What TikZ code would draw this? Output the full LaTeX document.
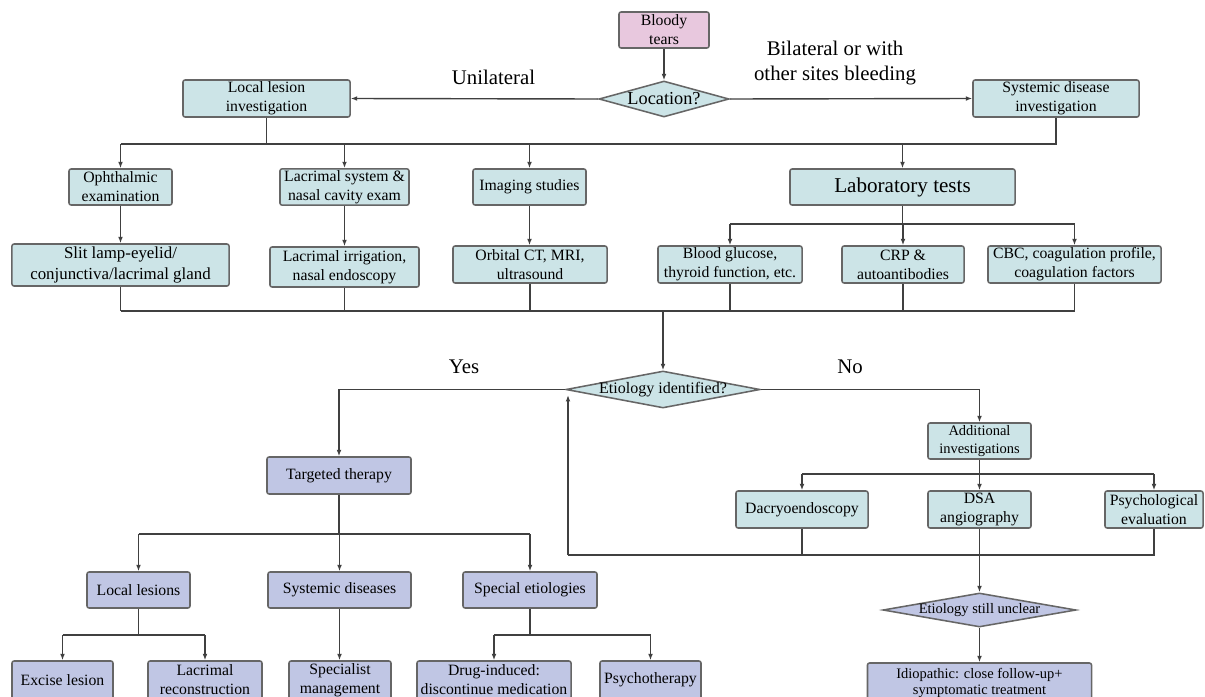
\documentclass[tikz,border=0pt]{standalone}
\usepackage{fontspec}
\setmainfont{Liberation Serif}
\usepackage{xcolor}
\usepackage{tikz}
\usetikzlibrary{arrows.meta, shapes.geometric}
\definecolor{cyanbox}{RGB}{204,228,231}
\definecolor{lilacbox}{RGB}{192,198,228}
\definecolor{pinkbox}{RGB}{232,200,222}

\begin{document}
\begin{tikzpicture}[x = 0.025cm, y = -0.025cm,
        Node/.style = {rectangle, rounded corners = 1.5pt, draw = black!60, line width = 1.1pt, align = center, inner sep = 1pt, font = \fontsize{11.2}{13.6}\selectfont},
        Cyan/.style = {Node, fill = cyanbox},
        Lilac/.style = {Node, fill = lilacbox},
        Choice/.style = {diamond, draw = black!60, line width = 1.1pt, inner sep = 0pt},
        Size/.style 2 args = {minimum width = #1cm, minimum height = #2cm},
        Tag/.style = {align = center, font = \fontsize{14.8}{17.8}\selectfont},
        Line/.style = {draw = black!75, line width = 1pt},
        Arrow/.style = {Line, -{Latex[length = 4.5pt, width = 3.4pt]}}]
        \useasboundingbox (0, 0) rectangle (1205, 697);
        \node [Node, fill = pinkbox, Size = {2.25}{0.9}] (1) at (664, 30) {Bloody\\tears};
        \node [Choice, fill = cyanbox, Size = {3.25}{0.9}, label = {[font = \fontsize{13}{15}\selectfont]center:Location?}] (2) at (664, 99) {};
        \node [Cyan, Size = {4.175}{0.925}] (3) at (266.5, 98.5) {Local lesion\\investigation};
        \node [Cyan, Size = {4.15}{0.925}] (4) at (1056, 98.5) {Systemic disease\\investigation};
        \node [Cyan, Size = {2.575}{0.9}] (5) at (120.5, 187) {Ophthalmic\\examination};
        \node [Cyan, Size = {3.225}{0.9}] (6) at (344.5, 187) {Lacrimal system \&\\nasal cavity exam};
        \node [Cyan, Size = {2.825}{0.9}] (7) at (529.5, 187) {Imaging studies};
        \node [Cyan, Size = {5.625}{0.9}, font = \fontsize{15}{17}\selectfont] (8) at (902.5, 187) {Laboratory tests};
        \node [Cyan, Size = {5.425}{1.05}, font = \fontsize{12}{15}\selectfont] (9) at (120.5, 265) {Slit lamp-eyelid/\\conjunctiva/lacrimal gland};
        \node [Cyan, Size = {3.725}{1.0}] (10) at (344.5, 267) {Lacrimal irrigation,\\nasal endoscopy};
        \node [Cyan, Size = {3.85}{0.925}] (11) at (530, 264.5) {Orbital CT, MRI,\\ultrasound};
        \node [Cyan, Size = {3.6}{0.925}] (12) at (730, 264.5) {Blood glucose,\\thyroid function, etc.};
        \node [Cyan, Size = {3.05}{0.925}] (13) at (903, 264.5) {CRP \&\\autoantibodies};
        \node [Cyan, Size = {4.325}{0.925}] (14) at (1074.5, 264.5) {CBC, coagulation profile,\\coagulation factors};
        \node [Choice, fill = cyanbox, Size = {4.85}{0.925}, label = {[font = \fontsize{11.4}{13}\selectfont]center:Etiology identified?}] (15) at (663, 389.5) {};
        \node [Lilac, Size = {3.6}{0.925}] (16) at (339, 475.5) {Targeted therapy};
        \node [Cyan, Size = {2.575}{0.9}, font = \fontsize{10.3}{13}\selectfont] (17) at (979.5, 441) {Additional\\investigations};
        \node [Cyan, Size = {3.3}{0.925}] (18) at (802, 509.5) {Dacryoendoscopy};
        \node [Cyan, Size = {2.575}{0.925}] (19) at (979.5, 509.5) {DSA\\angiography};
        \node [Cyan, Size = {2.45}{0.925}] (20) at (1154, 509.5) {Psychological\\evaluation};
        \node [Lilac, Size = {2.575}{0.9}] (21) at (138.5, 590) {Local lesions};
        \node [Lilac, Size = {3.575}{0.9}] (22) at (339.5, 590) {Systemic diseases};
        \node [Lilac, Size = {3.35}{0.9}] (23) at (530, 590) {Special etiologies};
        \node [Choice, fill = lilacbox, Size = {4.825}{0.85}, label = {[font = \fontsize{10.3}{12}\selectfont]center:Etiology still unclear}] (24) at (979.5, 610) {};
        \node [Lilac, Size = {2.525}{0.95}] (25) at (62.5, 680) {Excise lesion};
        \node [Lilac, Size = {2.85}{0.95}] (26) at (205, 680) {Lacrimal\\reconstruction};
        \node [Lilac, Size = {2.55}{0.95}] (27) at (340, 680) {Specialist\\management};
        \node [Lilac, Size = {3.85}{0.95}] (28) at (494, 680) {Drug-induced:\\discontinue medication};
        \node [Lilac, Size = {2.525}{0.95}] (29) at (650.5, 680) {Psychotherapy};
        \node [Lilac, Size = {5.6}{1.0}, font = \fontsize{10.3}{12}\selectfont] (30) at (979.5, 683) {Idiopathic: close follow-up+\\symptomatic treatment};
        \node [Tag] (31) at (493.5, 77) {Unilateral};
        \node [Tag] (32) at (835, 63) {Bilateral or with\\other sites bleeding};
        \node [Tag] (33) at (464, 367) {Yes};
        \node [Tag] (34) at (850, 367) {No};
        \coordinate (j1) at (0, 144);
        \coordinate (j2) at (0, 224);
        \coordinate (j3) at (0, 311);
        \coordinate (j4) at (0, 534);
        \coordinate (j5) at (0, 635);
        \coordinate (j6) at (0, 474);
        \coordinate (j7) at (568, 555);
        \draw [Arrow] (1.south) -- (2.north);
        \draw [Arrow] (2.west) -- (3.east);
        \draw [Arrow] (2.east) -- (4.west);
        \draw [Line] (3.south) -- (3.south |- j1);
        \draw [Line] (5.north |- j1) -- (4.south |- j1) -- (4.south);
        \foreach \n in {5, 6, 7, 8}
            \draw [Arrow] (\n.north |- j1) -- (\n.north);
        \foreach \a/\b in {5/9, 6/10, 7/11}
            \draw [Arrow] (\a.south) -- (\a.south |- \b.north);
        \draw [Line] (8.south) -- (8.south |- j2);
        \draw [Line] (12.north |- j2) -- (14.north |- j2);
        \foreach \n in {12, 13, 14}
            \draw [Arrow] (\n.north |- j2) -- (\n.north);
        \foreach \n in {9, ..., 14}
            \draw [Line] (\n.south) -- (\n.south |- j3);
        \draw [Line] (9.south |- j3) -- (14.south |- j3);
        \draw [Arrow] (15.north |- j3) -- (15.north);
        \draw [Arrow] (15.west) -| (16.north);
        \draw [Arrow] (15.east) -| (17.north);
        \draw [Line] (16.south) -- (16.south |- j4);
        \draw [Line] (21.north |- j4) -- (23.north |- j4);
        \foreach \n in {21, 22, 23}
            \draw [Arrow] (\n.north |- j4) -- (\n.north);
        \draw [Line] (21.south) -- (21.south |- j5);
        \draw [Line] (25.north |- j5) -- (26.north |- j5);
        \draw [Line] (23.south) -- (23.south |- j5);
        \draw [Line] (28.north |- j5) -- (29.north |- j5);
        \foreach \n in {25, 26, 28, 29}
            \draw [Arrow] (\n.north |- j5) -- (\n.north);
        \draw [Arrow] (22.south) -- (22.south |- 27.north);
        \draw [Line] (17.south) -- (17.south |- j6);
        \draw [Line] (18.north |- j6) -- (20.north |- j6);
        \foreach \n in {18, 19, 20}
            \draw [Arrow] (\n.north |- j6) -- (\n.north);
        \draw [Line] (20.south) |- (j7);
        \draw [Line] (18.south) -- (18.south |- j7);
        \draw [Arrow] (j7) -- ([yshift = -4pt]j7 |- 15.west);
        \draw [Arrow] (19.south) -- (24.north);
        \draw [Arrow] (24.south) -- (30.north);
    \end{tikzpicture}
\end{document}
